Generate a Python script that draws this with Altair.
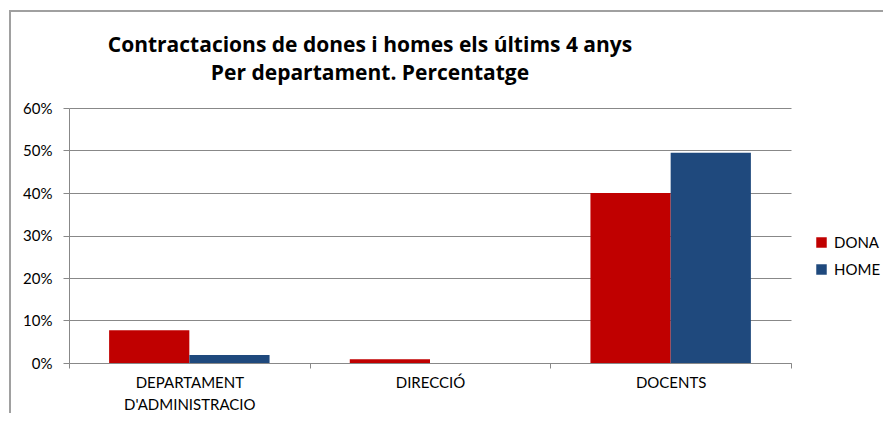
import altair as alt
import pandas as pd

categories = ["DEPARTAMENT\nD'ADMINISTRACIO", "DIRECCIÓ", "DOCENTS"]
series = ["DONA", "HOME"]
dona = [0.077, 0.009, 0.400]
home = [0.019, 0.0, 0.495]
colors = ["#C00000", "#1F497D"]
y_ticks = [0, 0.1, 0.2, 0.3, 0.4, 0.5, 0.6]
title_lines = ["Contractacions de dones i homes els últims 4 anys", "Per departament. Percentatge"]

rows = []
for i, c in enumerate(categories):
    rows.append({"cat": c, "serie": "DONA", "val": dona[i]})
    rows.append({"cat": c, "serie": "HOME", "val": home[i]})
df = pd.DataFrame(rows)

FONT = "Lato"
FS = 15

bars = alt.Chart(df).mark_bar().encode(
    x=alt.X("cat:N", sort=categories,
            scale=alt.Scale(paddingInner=0, paddingOuter=0),
            axis=alt.Axis(title=None, labelAngle=0, labelExpr="split(datum.label, '\\n')",
                          tickBand="extent", tickSize=5, tickColor="#888888",
                          domainColor="#888888", labelFont=FONT, labelFontSize=FS,
                          labelColor="#000000", labelPadding=7, labelLineHeight=22,
                          grid=False)),
    xOffset=alt.XOffset("serie:N", sort=series,
                        scale=alt.Scale(paddingInner=0, paddingOuter=0.5)),
    y=alt.Y("val:Q", scale=alt.Scale(domain=[0, 0.6], nice=False),
            axis=alt.Axis(title=None, values=y_ticks, format=".0%", tickSize=6,
                          tickColor="#888888", domainColor="#888888", gridColor="#888888",
                          gridWidth=1, labelFont=FONT, labelFontSize=FS,
                          labelColor="#000000", labelPadding=11)),
    color=alt.Color("serie:N", sort=series,
                    scale=alt.Scale(domain=series, range=colors),
                    legend=alt.Legend(title=None, orient="none", legendX=745, legendY=127,
                                      symbolType="square", symbolSize=110,
                                      symbolStrokeWidth=0, labelFont=FONT,
                                      labelFontSize=FS, labelColor="#000000",
                                      rowPadding=11, labelOffset=5)),
)

frame = alt.Chart(pd.DataFrame({"a": [0]})).mark_rect(
    fill=None, stroke="#A0A0A0", strokeWidth=2, clip=False
).encode(x=alt.value(-59), x2=alt.value(900), y=alt.value(-97), y2=alt.value(400))

tdf = pd.DataFrame({"t": title_lines, "i": [0, 1]})
title = alt.Chart(tdf).mark_text(
    font="Open Sans", fontSize=21, fontWeight="bold", color="#000000",
    align="center", baseline="middle", clip=False
).encode(
    text="t:N",
    x=alt.value(301),
    y=alt.Y("i:Q", scale=alt.Scale(domain=[0, 1], range=[-62, -34]), axis=None),
)

chart = alt.layer(frame, bars, title).resolve_scale(y="independent").properties(
    width=722, height=255,
    autosize=alt.AutoSizeParams(type="none"),
    padding={"left": 61, "top": 100, "right": 92, "bottom": 50},
).configure_view(stroke=None)

chart.save("out.html", embed_options={"renderer": "svg", "actions": False})
